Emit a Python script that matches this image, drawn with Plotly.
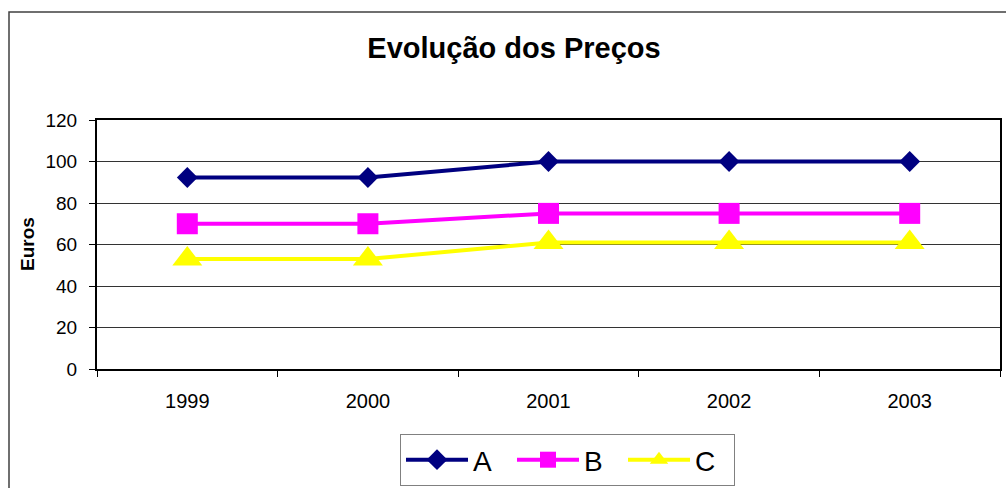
import plotly.graph_objects as go

years = ["1999", "2000", "2001", "2002", "2003"]
serie_a = [92.3, 92.3, 100, 100, 100]
serie_b = [70, 70, 75, 75, 75]
serie_c = [53, 53, 61, 61, 61]
y_ticks = [0, 20, 40, 60, 80, 100, 120]

W, H = 1006, 488
L, R, T, B = 97, 6, 120, 119

fig = go.Figure()
fig.add_trace(go.Scatter(x=years, y=serie_a, name="A", mode="lines+markers",
                         line=dict(color="#000080", width=4),
                         marker=dict(symbol="diamond", size=16, color="#000080")))
fig.add_trace(go.Scatter(x=years, y=serie_b, name="B", mode="lines+markers",
                         line=dict(color="#FF00FF", width=4),
                         marker=dict(symbol="square", size=21, color="#FF00FF")))
fig.add_trace(go.Scatter(x=years, y=serie_c, name="C", mode="lines+markers",
                         line=dict(color="#FFFF00", width=4),
                         marker=dict(symbol="triangle-up", size=26, color="#FFFF00")))

pw = W - L - R
ph = H - T - B
fig.add_shape(type="rect", xref="paper", yref="paper",
              x0=(9 - L) / pw, x1=1.05, y0=-0.7, y1=(H - B - 12) / ph,
              line=dict(color="#404040", width=1.5), fillcolor="rgba(0,0,0,0)", layer="below")

fig.add_annotation(text="<b>Euros</b>", xref="paper", yref="paper",
                   x=(27 - L) / pw, y=(H - B - 244) / ph, textangle=-90,
                   showarrow=False, xanchor="center", yanchor="middle",
                   font=dict(family="Liberation Sans, Arial", size=19, color="black"))

fig.update_layout(
    width=W, height=H,
    margin=dict(l=L, r=R, t=T, b=B, autoexpand=False),
    paper_bgcolor="white", plot_bgcolor="white",
    font=dict(family="Liberation Sans, Arial", color="black", size=19),
    title=dict(text="<b>Evolução dos Preços</b>", x=514 / W, xanchor="center",
               xref="container", yref="container", y=1 - 47.5 / H, yanchor="middle",
               font=dict(size=29, family="Liberation Sans, Arial", color="black")),
    xaxis=dict(type="category", tickson="boundaries", ticks="outside", ticklen=6,
               tickcolor="black", tickwidth=1, showline=True, linecolor="black",
               linewidth=2, mirror=True, showgrid=False, zeroline=False,
               range=[-0.5, 4.5], ticklabelstandoff=13, automargin=False,
               tickfont=dict(size=20)),
    yaxis=dict(range=[0, 120], tickvals=y_ticks, ticks="outside", ticklen=6,
               tickcolor="black", tickwidth=1, showline=True, linecolor="black",
               linewidth=2, mirror=True, showgrid=True, gridcolor="#333333",
               gridwidth=1, zeroline=False, ticklabelstandoff=8, automargin=False,
               tickfont=dict(size=19)),
    showlegend=True,
    legend=dict(orientation="h", x=(400 - L) / pw, xanchor="left",
                y=(H - B - 434) / ph, yanchor="top",
                bordercolor="#808080", borderwidth=1, bgcolor="white",
                font=dict(size=28, family="Liberation Sans, Arial"),
                itemwidth=62, entrywidth=34, entrywidthmode="pixels",
                itemclick=False, traceorder="normal"),
)

fig.write_html("out.html", post_script="document.body.style.margin='0';",
               config={"displayModeBar": False})
